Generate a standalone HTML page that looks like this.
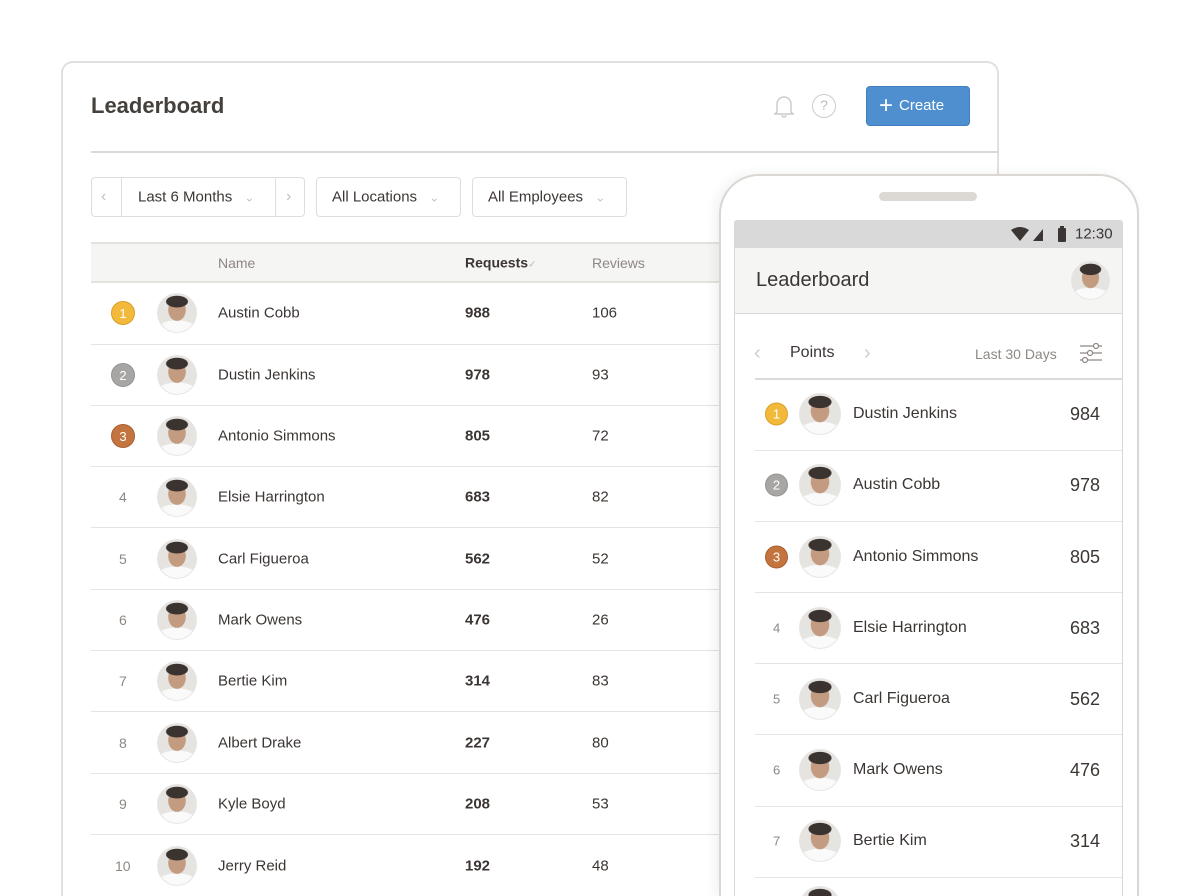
<!DOCTYPE html>
<html><head><meta charset="utf-8">
<style>
*{box-sizing:border-box;margin:0;padding:0}
html,body{width:1200px;height:896px;overflow:hidden}
body{background:#fff;font-family:"Liberation Sans",sans-serif;color:#3b3633}
#w{position:relative;width:1200px;height:896px;overflow:hidden}
.abs{position:absolute}
.card{left:61px;top:61px;width:938px;height:835px;border:2px solid #e2e0dd;border-bottom:none;border-radius:12px 12px 0 0;background:#fff}
.t{position:absolute;white-space:nowrap;transform:translateY(-50%);line-height:1}
.av{position:absolute;border-radius:50%;background:
radial-gradient(ellipse 30% 16% at 50% 20%,#3a3330 92%,transparent 100%),
radial-gradient(ellipse 24% 30% at 50% 42%,#c29b80 92%,transparent 100%),
radial-gradient(ellipse 60% 32% at 50% 100%,#fafafa 92%,transparent 100%),
#e6e4e1;border:1px solid #e8e6e3}
.b{position:absolute;border-radius:50%;color:#fff;font-size:13px;text-align:center;line-height:24px;width:24px;height:24px;transform:translateY(-50%)}
.g{background:#f2b93b;border:1px solid #d9a02a}.s{background:#a8a6a4;border:1px solid #979593}.c{background:#c3743f;border:1px solid #a95f2f}
.hl{position:absolute;height:1px;background:#e6e4e1}
.box{position:absolute;border:1px solid #e0dedb;border-radius:4px;top:177px;height:40px}
</style></head><body><div id="w">
<div class="abs card"></div>
<div class="t" style="left:91px;top:106px;font-size:22px;font-weight:bold;color:#45403c">Leaderboard</div>
<svg class="abs" style="left:772px;top:93px" width="24" height="26" viewBox="0 0 24 26"><path d="M5 19 V11 a7 7 0 0 1 14 0 V19 L21 21 H3 Z M10 22 a2 2 0 0 0 4 0" fill="none" stroke="#cfcbc7" stroke-width="1.5"/></svg>
<div class="abs" style="left:812px;top:94px;width:24px;height:24px;border:1.5px solid #cfcbc7;border-radius:50%;color:#bdb9b5;font-size:14px;text-align:center;line-height:21px">?</div>
<div class="abs" style="left:866px;top:86px;width:104px;height:40px;background:#4f8fd0;border:1px solid #3f7fc0;border-radius:4px;color:#fff;font-size:15px;line-height:38px;padding-left:12px"><span style="font-size:24px;vertical-align:-3px;margin-right:6px">+</span>Create</div>
<div class="hl" style="left:91px;top:151px;width:908px;background:#dcd9d6;height:2px"></div>

<div class="box" style="left:91px;width:214px"></div>
<div class="abs" style="left:121px;top:178px;width:1px;height:38px;background:#e0dedb"></div>
<div class="abs" style="left:275px;top:178px;width:1px;height:38px;background:#e0dedb"></div>
<div class="t" style="left:101px;top:197px;color:#c5c1bd;font-size:16px">&#8249;</div>
<div class="t" style="left:286px;top:197px;color:#c5c1bd;font-size:16px">&#8250;</div>
<div class="t" style="left:138px;top:197px;font-size:15px">Last 6 Months <span style="color:#c5c1bd;margin-left:8px;font-size:12px">&#8964;</span></div>
<div class="box" style="left:316px;width:145px"></div>
<div class="t" style="left:332px;top:197px;font-size:15px">All Locations <span style="color:#c5c1bd;margin-left:8px;font-size:12px">&#8964;</span></div>
<div class="box" style="left:472px;width:155px"></div>
<div class="t" style="left:488px;top:197px;font-size:15px">All Employees <span style="color:#c5c1bd;margin-left:8px;font-size:12px">&#8964;</span></div>

<div class="abs" style="left:91px;top:242px;width:908px;height:41px;background:#f5f5f4;border-top:2px solid #e4e2df;border-bottom:2px solid #e4e2df"></div>
<div class="t" style="left:218px;top:263px;font-size:14px;color:#8d8783">Name</div>
<div class="t" style="left:465px;top:263px;font-size:14px;font-weight:bold;color:#3b3633">Requests<span style="color:#bbb;font-weight:normal;font-size:10px">&#10003;</span></div>
<div class="t" style="left:592px;top:263px;font-size:14px;color:#8d8783">Reviews</div>

<div style="font-size:15px">
<div class="b g" style="left:111px;top:313px">1</div><div class="av" style="left:157px;top:293px;width:40px;height:40px"></div><div class="t" style="left:218px;top:313px">Austin Cobb</div><div class="t" style="left:465px;top:313px;font-weight:bold">988</div><div class="t" style="left:592px;top:313px">106</div>
<div class="hl" style="left:91px;top:344px;width:908px"></div>
<div class="b s" style="left:111px;top:375px">2</div><div class="av" style="left:157px;top:355px;width:40px;height:40px"></div><div class="t" style="left:218px;top:375px">Dustin Jenkins</div><div class="t" style="left:465px;top:375px;font-weight:bold">978</div><div class="t" style="left:592px;top:375px">93</div>
<div class="hl" style="left:91px;top:405px;width:908px"></div>
<div class="b c" style="left:111px;top:436px">3</div><div class="av" style="left:157px;top:416px;width:40px;height:40px"></div><div class="t" style="left:218px;top:436px">Antonio Simmons</div><div class="t" style="left:465px;top:436px;font-weight:bold">805</div><div class="t" style="left:592px;top:436px">72</div>
<div class="hl" style="left:91px;top:466px;width:908px"></div>
<div class="t" style="left:119px;top:497px;color:#8d8783;font-size:14px">4</div><div class="av" style="left:157px;top:477px;width:40px;height:40px"></div><div class="t" style="left:218px;top:497px">Elsie Harrington</div><div class="t" style="left:465px;top:497px;font-weight:bold">683</div><div class="t" style="left:592px;top:497px">82</div>
<div class="hl" style="left:91px;top:527px;width:908px"></div>
<div class="t" style="left:119px;top:559px;color:#8d8783;font-size:14px">5</div><div class="av" style="left:157px;top:539px;width:40px;height:40px"></div><div class="t" style="left:218px;top:559px">Carl Figueroa</div><div class="t" style="left:465px;top:559px;font-weight:bold">562</div><div class="t" style="left:592px;top:559px">52</div>
<div class="hl" style="left:91px;top:589px;width:908px"></div>
<div class="t" style="left:119px;top:620px;color:#8d8783;font-size:14px">6</div><div class="av" style="left:157px;top:600px;width:40px;height:40px"></div><div class="t" style="left:218px;top:620px">Mark Owens</div><div class="t" style="left:465px;top:620px;font-weight:bold">476</div><div class="t" style="left:592px;top:620px">26</div>
<div class="hl" style="left:91px;top:650px;width:908px"></div>
<div class="t" style="left:119px;top:681px;color:#8d8783;font-size:14px">7</div><div class="av" style="left:157px;top:661px;width:40px;height:40px"></div><div class="t" style="left:218px;top:681px">Bertie Kim</div><div class="t" style="left:465px;top:681px;font-weight:bold">314</div><div class="t" style="left:592px;top:681px">83</div>
<div class="hl" style="left:91px;top:711px;width:908px"></div>
<div class="t" style="left:119px;top:743px;color:#8d8783;font-size:14px">8</div><div class="av" style="left:157px;top:723px;width:40px;height:40px"></div><div class="t" style="left:218px;top:743px">Albert Drake</div><div class="t" style="left:465px;top:743px;font-weight:bold">227</div><div class="t" style="left:592px;top:743px">80</div>
<div class="hl" style="left:91px;top:773px;width:908px"></div>
<div class="t" style="left:119px;top:804px;color:#8d8783;font-size:14px">9</div><div class="av" style="left:157px;top:784px;width:40px;height:40px"></div><div class="t" style="left:218px;top:804px">Kyle Boyd</div><div class="t" style="left:465px;top:804px;font-weight:bold">208</div><div class="t" style="left:592px;top:804px">53</div>
<div class="hl" style="left:91px;top:834px;width:908px"></div>
<div class="t" style="left:115px;top:866px;color:#8d8783;font-size:14px">10</div><div class="av" style="left:157px;top:846px;width:40px;height:40px"></div><div class="t" style="left:218px;top:866px">Jerry Reid</div><div class="t" style="left:465px;top:866px;font-weight:bold">192</div><div class="t" style="left:592px;top:866px">48</div>
</div>

<div class="abs" style="left:719px;top:174px;width:420px;height:722px;background:#fff;border:2px solid #dad6d2;border-bottom:none;border-radius:40px 40px 0 0;box-shadow:-4px 0 12px rgba(0,0,0,0.06)"></div>
<div class="abs" style="left:879px;top:192px;width:98px;height:9px;background:#dcd8d4;border-radius:5px"></div>
<div class="abs" style="left:734px;top:220px;width:389px;height:676px;border:1px solid #dad6d2;border-bottom:none;border-radius:3px 3px 0 0;background:#fff"></div>
<div class="abs" style="left:735px;top:221px;width:387px;height:27px;background:#d9d9d9"></div>
<svg class="abs" style="left:1010px;top:225px" width="60" height="18" viewBox="0 0 60 18"><path d="M1 5 Q10 -1 19 5 L10 16 Z" fill="#3b3633"/><path d="M23 16 L33 4 V16 Z" fill="#3b3633"/><rect x="48" y="3" width="8" height="14" rx="1" fill="#3b3633"/><rect x="50" y="1" width="4" height="3" fill="#3b3633"/></svg>
<div class="t" style="left:1075px;top:234px;font-size:15px">12:30</div>
<div class="abs" style="left:735px;top:248px;width:387px;height:66px;background:#f5f5f4;border-bottom:1px solid #dcd9d6"></div>
<div class="t" style="left:756px;top:280px;font-size:20px">Leaderboard</div>
<div class="av" style="left:1071px;top:261px;width:39px;height:39px"></div>
<div class="t" style="left:754px;top:353px;font-size:20px;color:#cfcbc7">&#8249;</div>
<div class="t" style="left:790px;top:353px;font-size:16px">Points</div>
<div class="t" style="left:864px;top:353px;font-size:20px;color:#cfcbc7">&#8250;</div>
<div class="t" style="left:975px;top:354px;font-size:14px;color:#8d8783">Last 30 Days</div>
<svg class="abs" style="left:1079px;top:342px" width="24" height="22" viewBox="0 0 24 22"><g stroke="#8d8783" stroke-width="1.2" fill="#fff"><line x1="1" y1="4" x2="23" y2="4"/><line x1="1" y1="11" x2="23" y2="11"/><line x1="1" y1="18" x2="23" y2="18"/><circle cx="17" cy="4" r="2.5"/><circle cx="11" cy="11" r="2.5"/><circle cx="6" cy="18" r="2.5"/></g></svg>
<div class="hl" style="left:755px;top:378px;width:367px;height:2px;background:#dcd9d6"></div>

<div style="font-size:16px">
<div class="b g" style="left:765px;top:414px;width:23px;height:23px;line-height:22px">1</div><div class="av" style="left:799px;top:393px;width:42px;height:42px"></div><div class="t" style="left:853px;top:414px">Dustin Jenkins</div><div class="t" style="right:100px;top:414px;font-size:18px">984</div>
<div class="hl" style="left:755px;top:450px;width:367px"></div>
<div class="b s" style="left:765px;top:485px;width:23px;height:23px;line-height:22px">2</div><div class="av" style="left:799px;top:464px;width:42px;height:42px"></div><div class="t" style="left:853px;top:485px">Austin Cobb</div><div class="t" style="right:100px;top:485px;font-size:18px">978</div>
<div class="hl" style="left:755px;top:521px;width:367px"></div>
<div class="b c" style="left:765px;top:557px;width:23px;height:23px;line-height:22px">3</div><div class="av" style="left:799px;top:536px;width:42px;height:42px"></div><div class="t" style="left:853px;top:557px">Antonio Simmons</div><div class="t" style="right:100px;top:557px;font-size:18px">805</div>
<div class="hl" style="left:755px;top:592px;width:367px"></div>
<div class="t" style="left:773px;top:628px;font-size:13px;color:#8d8783">4</div><div class="av" style="left:799px;top:607px;width:42px;height:42px"></div><div class="t" style="left:853px;top:628px">Elsie Harrington</div><div class="t" style="right:100px;top:628px;font-size:18px">683</div>
<div class="hl" style="left:755px;top:663px;width:367px"></div>
<div class="t" style="left:773px;top:699px;font-size:13px;color:#8d8783">5</div><div class="av" style="left:799px;top:678px;width:42px;height:42px"></div><div class="t" style="left:853px;top:699px">Carl Figueroa</div><div class="t" style="right:100px;top:699px;font-size:18px">562</div>
<div class="hl" style="left:755px;top:734px;width:367px"></div>
<div class="t" style="left:773px;top:770px;font-size:13px;color:#8d8783">6</div><div class="av" style="left:799px;top:749px;width:42px;height:42px"></div><div class="t" style="left:853px;top:770px">Mark Owens</div><div class="t" style="right:100px;top:770px;font-size:18px">476</div>
<div class="hl" style="left:755px;top:806px;width:367px"></div>
<div class="t" style="left:773px;top:841px;font-size:13px;color:#8d8783">7</div><div class="av" style="left:799px;top:820px;width:42px;height:42px"></div><div class="t" style="left:853px;top:841px">Bertie Kim</div><div class="t" style="right:100px;top:841px;font-size:18px">314</div>
<div class="hl" style="left:755px;top:877px;width:367px"></div>
<div class="abs" style="left:799px;top:886px;width:42px;height:10px;overflow:hidden"><div class="av" style="left:0;top:0;width:42px;height:42px"></div></div>
</div>
</div></body></html>
